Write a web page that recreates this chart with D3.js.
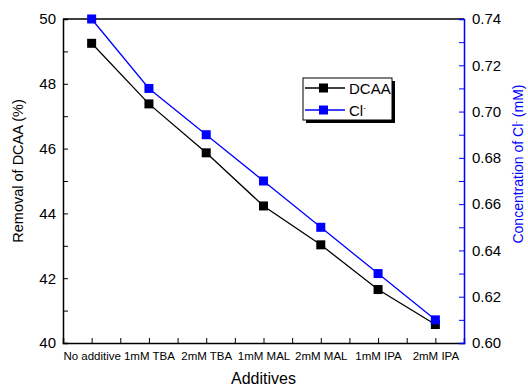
<!DOCTYPE html>
<html>
<head>
<meta charset="utf-8">
<script src="https://cdn.jsdelivr.net/npm/d3@7"></script>
<style>
  body { margin: 0; background: #fff; }
  text { font-family: "Liberation Sans", Arial, sans-serif; }
</style>
</head>
<body>
<div id="chart"></div>
<script>
const additives = ["No additive", "1mM TBA", "2mM TBA", "1mM MAL", "2mM MAL", "1mM IPA", "2mM IPA"];
const dcaaRemoval = [49.25, 47.38, 45.87, 44.23, 43.03, 41.65, 40.57];
const clConc = [0.74, 0.71, 0.69, 0.67, 0.65, 0.63, 0.61];

const W = 528, H = 387;
const margin = { top: 19, right: 64, bottom: 44, left: 63 };
const width = W - margin.left - margin.right;
const height = H - margin.top - margin.bottom;

const svg = d3.select("#chart").append("svg")
    .attr("width", W)
    .attr("height", H)
    .append("g")
    .attr("transform", `translate(${margin.left}, ${margin.top})`);

const x = d3.scaleLinear().domain([-0.5, additives.length - 0.5]).range([0, width]);
const yL = d3.scaleLinear().domain([40, 50]).range([height, 0]);
const yR = d3.scaleLinear().domain([0.60, 0.74]).range([height, 0]);

// top frame line
svg.append("line")
    .attr("x1", 0).attr("x2", width)
    .attr("y1", 0).attr("y2", 0)
    .attr("stroke", "#000").attr("stroke-width", 1.5);

// x axis: ticks every half category, pointing inward
const xAxis = svg.append("g")
    .attr("transform", `translate(0, ${height})`)
    .call(d3.axisBottom(x)
        .tickValues(d3.range(0, additives.length - 0.5, 0.5))
        .tickSize(-5)
        .tickFormat(d => Number.isInteger(d) ? additives[d] : ""));
xAxis.select(".domain").attr("stroke-width", 1.5);
xAxis.selectAll("text")
    .attr("y", 9)
    .style("font-size", "11.5px")
    .attr("fill", "#000");

// left axis
const leftAxis = svg.append("g")
    .call(d3.axisLeft(yL).tickValues(d3.range(40, 50.5, 1)).tickSize(-5)
        .tickFormat(d => d % 2 === 0 ? d : ""));
leftAxis.select(".domain").attr("stroke-width", 1.5);
leftAxis.selectAll("text")
    .attr("x", -7)
    .style("font-size", "15px");

// right axis (blue)
const rightAxis = svg.append("g")
    .attr("transform", `translate(${width}, 0)`)
    .call(d3.axisRight(yR).tickValues(d3.range(0, 15).map(i => 0.60 + i * 0.01)).tickSize(-5)
        .tickFormat(d => Math.round(d * 100) % 2 === 0 ? d3.format(".2f")(d) : ""));
rightAxis.select(".domain").attr("stroke", "#0000ff").attr("stroke-width", 1.5);
rightAxis.selectAll(".tick line").attr("stroke", "#0000ff");
rightAxis.selectAll("text")
    .attr("x", 8)
    .style("font-size", "15px")
    .attr("fill", "#000");

// axis titles
svg.append("text")
    .attr("text-anchor", "middle")
    .attr("transform", "rotate(-90)")
    .attr("x", -(171 - margin.top))
    .attr("y", -margin.left + 23)
    .style("font-size", "14.5px")
    .text("Removal of DCAA (%)");

const rt = svg.append("text")
    .attr("text-anchor", "middle")
    .attr("transform", `translate(${width + 59}, ${164 - margin.top}) rotate(-90)`)
    .style("font-size", "14px")
    .attr("fill", "#0000ff");
rt.append("tspan").text("Concentration of Cl");
rt.append("tspan").attr("dy", -5).style("font-size", "8px").text("-");
rt.append("tspan").attr("dy", 5).text(" (mM)");

svg.append("text")
    .attr("text-anchor", "middle")
    .attr("x", x(3))
    .attr("y", height + 41)
    .style("font-size", "16px")
    .text("Additives");

// series
const series = [
    { name: "DCAA", values: dcaaRemoval, y: yL, color: "#000000" },
    { name: "Cl", values: clConc, y: yR, color: "#0000ff" }
];

series.forEach(s => {
    svg.append("path")
        .datum(s.values)
        .attr("fill", "none")
        .attr("stroke", s.color)
        .attr("stroke-width", 1.3)
        .attr("d", d3.line().x((d, i) => x(i)).y(d => s.y(d)));
    svg.selectAll(null)
        .data(s.values)
        .enter().append("rect")
        .attr("x", (d, i) => x(i) - 4.5)
        .attr("y", d => s.y(d) - 4.5)
        .attr("width", 9)
        .attr("height", 9)
        .attr("fill", s.color);
});

// legend
const lg = svg.append("g").attr("transform", `translate(${303 - margin.left}, ${78 - margin.top})`);
lg.append("rect").attr("x", 3).attr("y", 3).attr("width", 89).attr("height", 42).attr("fill", "#000");
lg.append("rect").attr("width", 89).attr("height", 42).attr("fill", "#fff").attr("stroke", "#000").attr("stroke-width", 1);
series.forEach((s, i) => {
    const ly = 10 + i * 22;
    lg.append("line").attr("x1", 2).attr("x2", 42).attr("y1", ly).attr("y2", ly)
        .attr("stroke", s.color).attr("stroke-width", 1.3);
    lg.append("rect").attr("x", 16).attr("y", ly - 4.5).attr("width", 9).attr("height", 9).attr("fill", s.color);
    const t = lg.append("text").attr("x", 46).attr("y", ly + 5.5).style("font-size", "15px");
    if (s.name === "Cl") {
        t.append("tspan").text("Cl");
        t.append("tspan").attr("dy", -6).style("font-size", "8px").text("-");
    } else {
        t.text(s.name);
    }
});
</script>
</body>
</html>
